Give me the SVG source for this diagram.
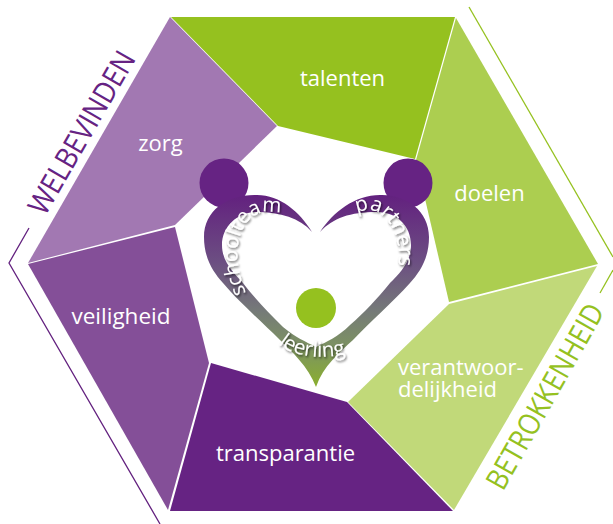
<svg xmlns="http://www.w3.org/2000/svg" width="613" height="524" viewBox="0 0 613 524">
<defs>
<linearGradient id="hg" gradientUnits="userSpaceOnUse" x1="0" y1="195" x2="0" y2="388"><stop offset="0" stop-color="#63217f"/><stop offset="0.35" stop-color="#6c4f82"/><stop offset="0.6" stop-color="#757a78"/><stop offset="0.8" stop-color="#7d9460"/><stop offset="1" stop-color="#8bb02c"/></linearGradient>
<filter id="sh" x="-20%" y="-20%" width="140%" height="140%"><feDropShadow dx="1" dy="1.5" stdDeviation="1" flood-color="#000" flood-opacity="0.65"/></filter>
<path id="p1" d="M246 293C236 270 233 241 247 222C256 211 268 210 284 214"/>
<path id="p2" d="M357 213C372 205 387 214 394 232C399 245 400 256 398 270"/>
<path id="p3" d="M278 344C295 358 330 362 360 349"/>
</defs>
<style>
.t{font-family:"Open Sans","Noto Sans",sans-serif;font-size:22px;fill:#fff}
.c{font-family:"Open Sans","Noto Sans",sans-serif;font-size:20.500px;fill:#fff;filter:url(#sh)}
.h{font-family:"Open Sans","Noto Sans",sans-serif;font-size:30px}
</style>
<g id="connectors" fill="none" stroke-width="1.3">
<path d="M29 228L9 263L160 524" stroke="#63217f"/>
<path d="M469 7L613 257" stroke="#95c11f"/>
<path d="M613 270L600 293" stroke="#95c11f"/>
</g>
<g id="node-zorg"><polygon points="170,17 277,126 175,225 28,263" fill="#a278b2"/><text class="t" x="160.500" y="151" text-anchor="middle">zorg</text></g>
<g id="node-talenten"><polygon points="171,17 455,17 415,159 278,126" fill="#95c11f"/><text class="t" x="342.500" y="86" text-anchor="middle">talenten</text></g>
<g id="node-doelen"><polygon points="456,18 598,264 449,302 416,160" fill="#acce50"/><text class="t" x="489.500" y="201" text-anchor="middle">doelen</text></g>
<g id="node-verantwoordelijkheid"><polygon points="597,266 454,510 348,402 449,304" fill="#c1d979"/><text class="t" x="398" y="375">verantwoor-</text><text class="t" x="398" y="397">delijkheid</text></g>
<g id="node-transparantie"><polygon points="453,511 170,511 211,363 347,402" fill="#662383"/><text class="t" x="285.500" y="461" text-anchor="middle">transparantie</text></g>
<g id="node-veiligheid"><polygon points="28,264 175,227 209,363 168,510" fill="#844f98"/><text class="t" x="121" y="324" text-anchor="middle" font-size="22.500" style="font-size:22.500px">veiligheid</text></g>
<g id="node-heart">
<circle cx="224" cy="183" r="24.500" fill="#662383"/>
<circle cx="408" cy="183" r="24.500" fill="#662383"/>
<path fill-rule="evenodd" d="M312 232C300 212 280 195 257 195C228 194 204 210 204 237C204 258 213 272 223 283C240 303 262 322 280 340C292 352 308 366 316 387C323 366 340 352 353 340C370 322 392 303 410 283C420 272 429 258 429 237C429 210 405 194 380 195C355 195 333 212 320 232C333 218 350 212 377 212C397 212 411 226 411 245C411 262 400 273 390 283C376 300 365 312 350 325C338 337 326 342 316 347C306 342 295 337 283 327C268 312 256 300 243 283C234 273 222 262 222 245C222 226 238 212 257 212C280 212 300 218 312 232Z" fill="url(#hg)"/>
<circle cx="316" cy="308" r="20" fill="#95c11f"/>
<text class="c"><textPath href="#p1">schoolteam</textPath></text>
<text class="c"><textPath href="#p2">partners</textPath></text>
<text class="c"><textPath href="#p3">leerling</textPath></text>
</g>
<g id="label-welbevinden"><text class="h" transform="translate(45 217) rotate(-60)" fill="#662383" textLength="183" lengthAdjust="spacingAndGlyphs">WELBEVINDEN</text></g>
<g id="label-betrokkenheid"><text class="h" transform="translate(503 492) rotate(-60.500)" fill="#95c11f" textLength="208" lengthAdjust="spacingAndGlyphs">BETROKKENHEID</text></g>
</svg>
